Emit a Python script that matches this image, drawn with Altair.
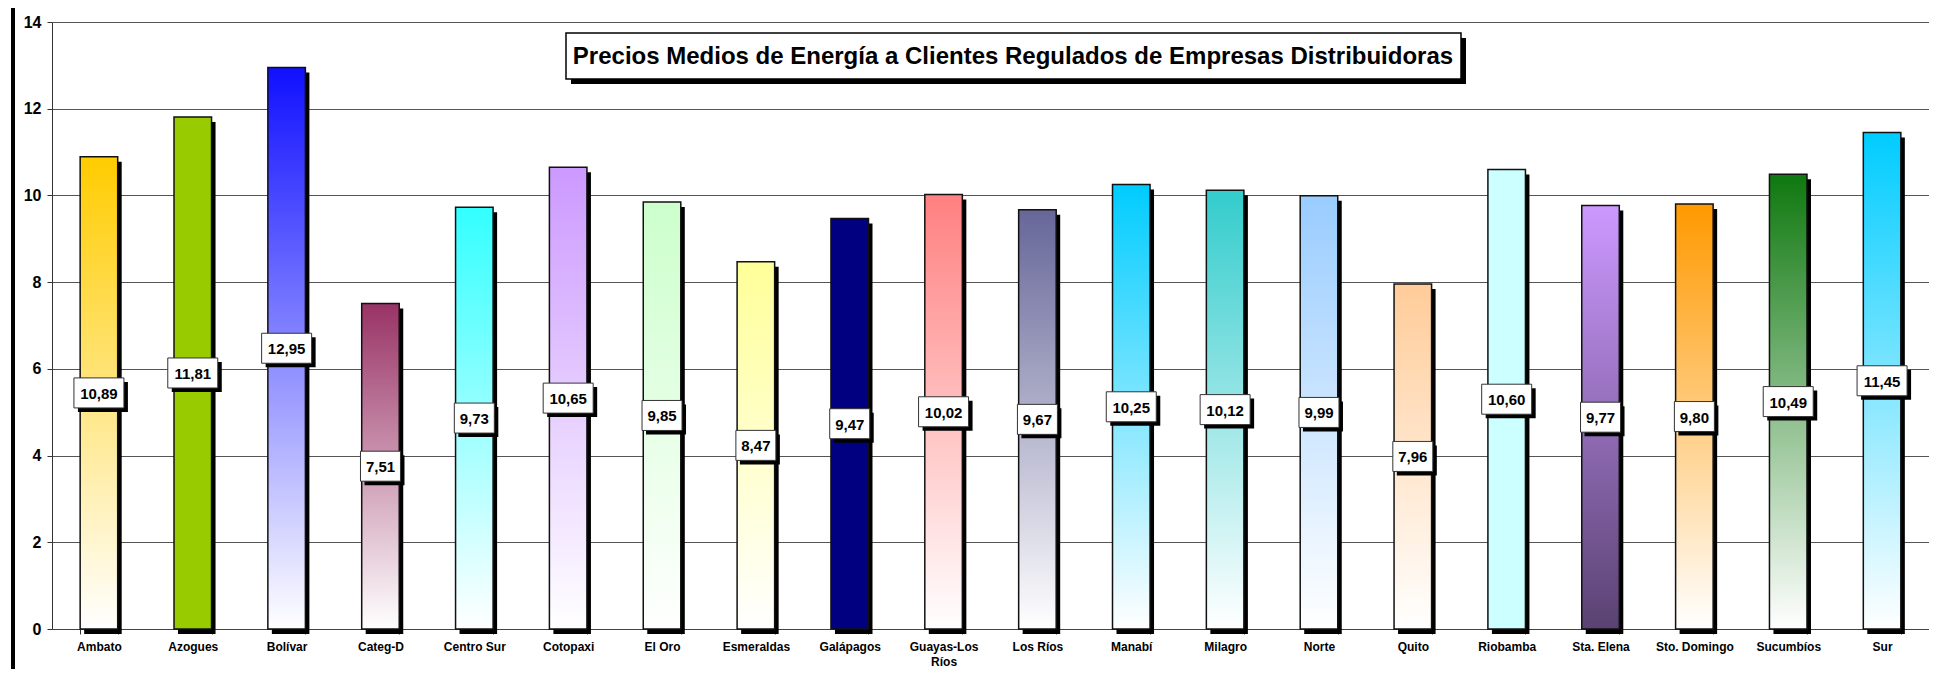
import altair as alt
import pandas as pd

# ---- data ----
regions = ["Ambato", "Azogues", "Bolívar", "Categ-D", "Centro Sur", "Cotopaxi", "El Oro",
           "Esmeraldas", "Galápagos", "Guayas-Los Ríos", "Los Ríos", "Manabí", "Milagro",
           "Norte", "Quito", "Riobamba", "Sta. Elena", "Sto. Domingo", "Sucumbíos", "Sur"]
values = [10.89, 11.81, 12.95, 7.51, 9.73, 10.65, 9.85, 8.47, 9.47, 10.02, 9.67, 10.25,
          10.12, 9.99, 7.96, 10.60, 9.77, 9.80, 10.49, 11.45]
y_ticks = [0, 2, 4, 6, 8, 10, 12, 14]
title_text = "Precios Medios de Energía a Clientes Regulados de Empresas Distribuidoras"

# ---- style: (top colour, bottom colour) of each bar's fill ----
fills = {
    "Ambato": ("#FFCC00", "#FFFFFF"),
    "Azogues": ("#99CC00", "#99CC00"),
    "Bolívar": ("#1010FF", "#FFFFFF"),
    "Categ-D": ("#993366", "#FFFFFF"),
    "Centro Sur": ("#33FFFF", "#FFFFFF"),
    "Cotopaxi": ("#CC99FF", "#FFFFFF"),
    "El Oro": ("#CCFFCC", "#FFFFFF"),
    "Esmeraldas": ("#FFFF99", "#FFFFFF"),
    "Galápagos": ("#000080", "#000080"),
    "Guayas-Los Ríos": ("#FF8080", "#FFFFFF"),
    "Los Ríos": ("#666699", "#FFFFFF"),
    "Manabí": ("#00CCFF", "#FFFFFF"),
    "Milagro": ("#33CCCC", "#FFFFFF"),
    "Norte": ("#99CCFF", "#FFFFFF"),
    "Quito": ("#FFCC99", "#FFFFFF"),
    "Riobamba": ("#CCFFFF", "#CCFFFF"),
    "Sta. Elena": ("#CC99FF", "#5A4272"),
    "Sto. Domingo": ("#FF9900", "#FFFFFF"),
    "Sucumbíos": ("#0F780F", "#FFFFFF"),
    "Sur": ("#00CCFF", "#FFFFFF"),
}

FONT = "Liberation Sans"
W, H = 1877, 607

df = pd.DataFrame({"region": regions, "value": values})
one = pd.DataFrame({"t": [title_text]})

x_axis = alt.Axis(title=None, labelAngle=0, labelFont=FONT, labelFontWeight="bold",
                  labelFontSize=12, labelColor="black", labelPadding=7, labelLimit=300,
                  labelLineHeight=15, labelOverlap=False,
                  tickSize=5, tickColor="#333", tickBand="extent", domainColor="#444",
                  labelExpr="datum.label == 'Guayas-Los Ríos' ? ['Guayas-Los', 'Ríos'] : datum.label")
y_axis = alt.Axis(title=None, values=y_ticks, format="d", labelFont=FONT, labelFontWeight="bold",
                  labelFontSize=16, labelColor="black", labelPadding=6, tickSize=5,
                  tickColor="#333", domainColor="#333", gridColor="#555", gridWidth=1)

x_scale = alt.Scale(domain=regions, paddingInner=0.6, paddingOuter=0.3)
y_scale = alt.Scale(domain=[0, 14], nice=False)

X = alt.X("region:N", sort=regions, scale=x_scale, axis=x_axis)
Y = alt.Y("value:Q", scale=y_scale, axis=y_axis)
Ym = alt.Y("mid:Q", scale=y_scale, axis=y_axis)

base = alt.Chart(df).transform_calculate(
    label="replace(format(datum.value, '.2f'), '.', ',')",
    mid="datum.value / 2",
)

layers = []

# outer frame (left edge)
layers.append(alt.Chart(one).mark_rule(color="black", strokeWidth=4).encode(
    x=alt.value(-39), y=alt.value(-14), y2=alt.value(H + 40)))

# bar shadows
layers.append(base.mark_bar(color="black", xOffset=4, yOffset=5, y2Offset=0).encode(x=X, y=Y))

# bars, each with its own gradient
for r in regions:
    top, bottom = fills[r]
    grad = alt.Gradient(gradient="linear", x1=0, y1=0, x2=0, y2=1,
                        stops=[alt.GradientStop(color=top, offset=0),
                               alt.GradientStop(color=bottom, offset=1)])
    layers.append(
        base.transform_filter(alt.datum.region == r)
        .mark_bar(fill=grad, stroke="#111", strokeWidth=1.5)
        .encode(x=X, y=Y)
    )

# value label boxes (shadow + white box), width depends on label length
for cond, bw in [("length(datum.label) > 4", 50), ("length(datum.label) <= 4", 40)]:
    layers.append(base.transform_filter(cond).mark_bar(
        color="black", width=bw, xOffset=4, yOffset=-15 + 4, y2Offset=15 + 4
    ).encode(x=X, y=Ym, y2="mid:Q"))
    layers.append(base.transform_filter(cond).mark_bar(
        fill="white", stroke="#333", strokeWidth=1, width=bw, yOffset=-15, y2Offset=15
    ).encode(x=X, y=Ym, y2="mid:Q"))

layers.append(base.mark_text(font=FONT, fontWeight="bold", fontSize=15, color="black",
                             baseline="middle", dy=1).encode(x=X, y=Ym, text="label:N"))

# title box
layers.append(alt.Chart(one).mark_rect(color="black").encode(
    x=alt.value(519), x2=alt.value(1414), y=alt.value(16), y2=alt.value(62)))
layers.append(alt.Chart(one).mark_rect(fill="white", stroke="black", strokeWidth=1.5).encode(
    x=alt.value(514), x2=alt.value(1409), y=alt.value(11), y2=alt.value(57)))
layers.append(alt.Chart(one).mark_text(font=FONT, fontWeight="bold", fontSize=24, color="black",
                                       baseline="middle", align="center").encode(
    x=alt.value(961), y=alt.value(35), text="t:N"))

chart = alt.layer(*layers).properties(
    width=W, height=H,
    padding={"left": 44, "top": 14, "right": 0, "bottom": 40},
    autosize=alt.AutoSizeParams(type="none"),
).configure_view(stroke="#888", strokeWidth=1.5).configure(background="white")

chart.save("out.html", embed_options={"renderer": "svg", "actions": False})
